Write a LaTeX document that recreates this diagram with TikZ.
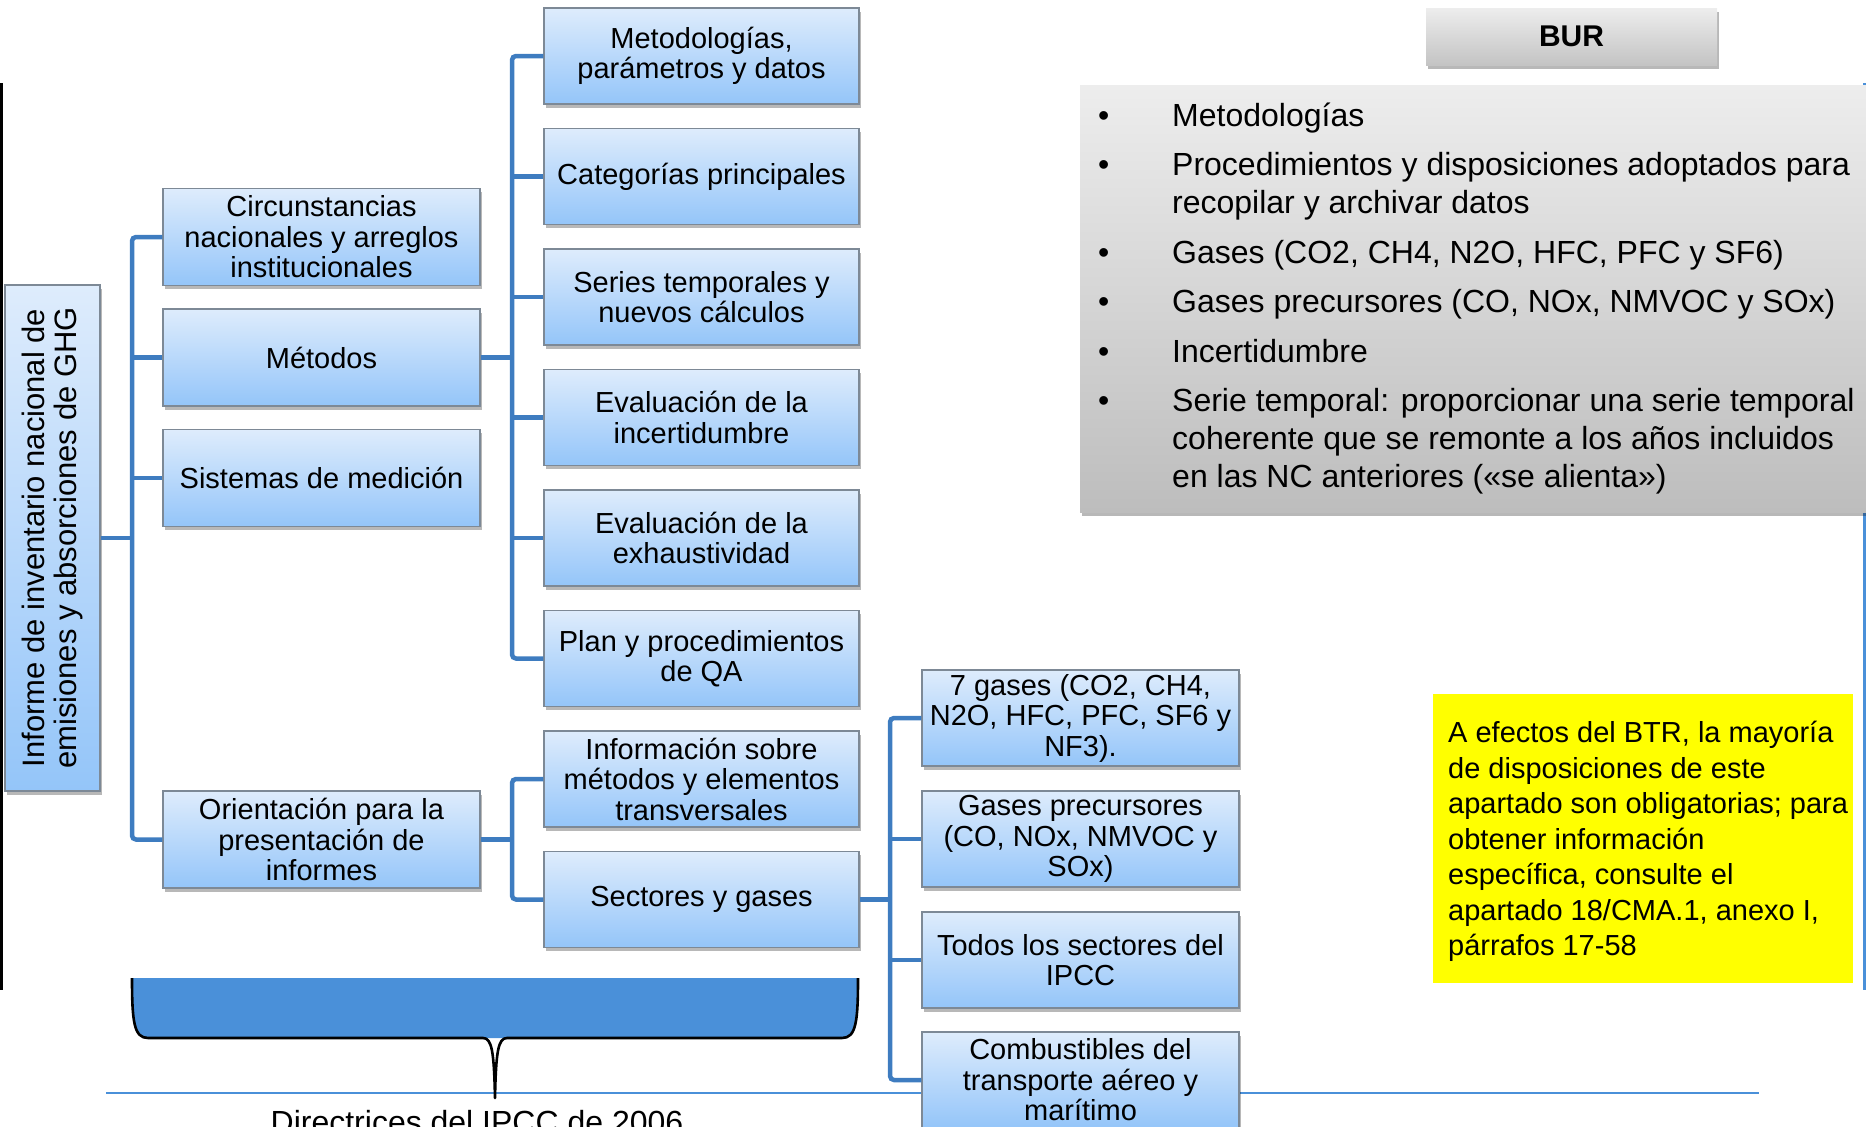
\documentclass[tikz,border=0pt]{standalone}
\usepackage{fontspec}
\setmainfont{Liberation Sans}
\usetikzlibrary{shadows}
\definecolor{btop}{RGB}{222,236,252}
\definecolor{bbot}{RGB}{148,197,249}
\definecolor{bdr}{RGB}{125,137,150}
\definecolor{connc}{RGB}{62,124,192}
\definecolor{brc}{RGB}{74,144,217}
\definecolor{gtop}{RGB}{237,237,237}
\definecolor{gbot}{RGB}{189,189,189}
\definecolor{ylw}{RGB}{255,255,0}
\begin{document}
\begin{tikzpicture}[x=1pt,y=-1pt,
  shd/.style={drop shadow={shadow xshift=1.5pt,shadow yshift=-3.5pt,opacity=0.28,fill=black}},
  bx/.style={shd,draw=bdr,line width=1.2pt,top color=btop,bottom color=bbot,
    minimum width=317pt,minimum height=97pt,inner sep=0pt,align=center,
    font=\fontsize{29}{30.5}\selectfont},
  bxm/.style={bx,minimum width=315pt,minimum height=96pt},
  link/.style={draw=connc,line width=4.5pt,rounded corners=4pt},
  greybox/.style={shd,top color=gtop,bottom color=gbot,draw=none,inner sep=0pt}
]
\useasboundingbox (0,0) rectangle (1866,1127);

% side rules
\coordinate (blT) at (1.5,83); \coordinate (blB) at (1.5,990);
\draw[line width=3pt,black] (blT) -- (blB);
\coordinate (brT) at (1864.5,83); \coordinate (brB) at (1864.5,990);
\draw[line width=3pt,brc] (brT) -- (brB);

% trunk coordinates
\coordinate (t1) at (132,0);
\coordinate (t2) at (512,0);
\coordinate (t3) at (890,0);

% nodes positions (boxes drawn later, defined here via coordinates)
\path
  (52.5,538) coordinate (rootc)
  (321.5,237) coordinate (circc)
  (321.5,357.5) coordinate (metc)
  (321.5,478) coordinate (sisc)
  (321.5,839.5) coordinate (oric);

% thin blue baseline
\coordinate (hlA) at (106,1093); \coordinate (hlB) at (1759,1093);
\draw[brc,line width=2.5pt] (hlA) -- (hlB);

% brace
\fill[brc] (132,978) .. controls (132,1022) and (134,1038) .. (148,1038) -- (842,1038)
  .. controls (856,1038) and (858,1022) .. (858,978) -- cycle;
\draw[black,line width=2.6pt,line join=round] (132,978) .. controls (132,1022) and (134,1038) .. (148,1038) -- (483,1038)
  .. controls (492,1038) and (494,1052) .. (495,1098) .. controls (496,1052) and (498,1038) .. (507,1038)
  -- (842,1038) .. controls (856,1038) and (858,1022) .. (858,978);

% root
\node[shd,draw=bdr,line width=1.2pt,top color=btop,bottom color=bbot,minimum width=95pt,minimum height=506pt,inner sep=0pt] (root) at (rootc) {};
\node[rotate=90,align=center,inner sep=0pt,font=\fontsize{31}{32.5}\selectfont] (roottxt) at (root.center) {Informe de inventario nacional de\\emisiones y absorciones de GHG};

% level 1
\node[bx] (circ) at (circc) {Circunstancias\\nacionales y arreglos\\institucionales};
\node[bx] (met) at (metc) {Métodos};
\node[bx] (sis) at (sisc) {Sistemas de medición};
\node[bx] (ori) at (oric) {Orientación para la\\presentación de\\informes};

% level 2
\node[bxm] (m1) at (701.5,56) {Metodologías,\\parámetros y datos};
\node[bxm] (m2) at (701.5,176.5) {Categorías principales};
\node[bxm] (m3) at (701.5,297) {Series temporales y\\nuevos cálculos};
\node[bxm] (m4) at (701.5,417.5) {Evaluación de la\\incertidumbre};
\node[bxm] (m5) at (701.5,538) {Evaluación de la\\exhaustividad};
\node[bxm] (m6) at (701.5,658.5) {Plan y procedimientos\\de QA};
\node[bxm] (inf) at (701.5,779) {Información sobre\\métodos y elementos\\transversales};
\node[bxm] (sec) at (701.5,899.5) {Sectores y gases};

% level 3
\node[bxm,minimum width=317pt] (g1) at (1080.5,718) {7 gases (CO2, CH4,\\N2O, HFC, PFC, SF6 y\\NF3).};
\node[bxm,minimum width=317pt] (g2) at (1080.5,839) {Gases precursores\\(CO, NOx, NMVOC y\\SOx)};
\node[bxm,minimum width=317pt] (g3) at (1080.5,960) {Todos los sectores del\\IPCC};
\node[bxm,minimum width=317pt] (g4) at (1080.5,1080) {Combustibles del\\transporte aéreo y\\marítimo};

% connectors (drawn behind boxes)
\begin{scope}[on background layer/.style={}]
\end{scope}

% level 0 -> 1
\draw[link] (circ.west) -- (circ.west -| t1) |- (ori.west);
\draw[link] (root.east) -- (root.east -| t1);
\draw[link] (met.west) -- (met.west -| t1);
\draw[link] (sis.west) -- (sis.west -| t1);
% Métodos -> level 2
\draw[link] (m1.west) -- (m1.west -| t2) |- (m6.west);
\draw[link] (met.east) -- (met.east -| t2);
\draw[link] (m2.west) -- (m2.west -| t2);
\draw[link] (m3.west) -- (m3.west -| t2);
\draw[link] (m4.west) -- (m4.west -| t2);
\draw[link] (m5.west) -- (m5.west -| t2);
% Orientación -> level 2
\draw[link] (inf.west) -- (inf.west -| t2) |- (sec.west);
\draw[link] (ori.east) -- (ori.east -| t2);
% Sectores -> level 3
\draw[link] (g1.west) -- (g1.west -| t3) |- (g4.west);
\draw[link] (sec.east) -- (sec.east -| t3);
\draw[link] (g2.west) -- (g2.west -| t3);
\draw[link] (g3.west) -- (g3.west -| t3);

% BUR side
\node[greybox,minimum width=291pt,minimum height=57pt,font=\fontsize{30}{32}\selectfont\bfseries,top color=gtop!100,bottom color=gbot!90] (bur) at (1571.5,36.5) {BUR};
\node[greybox,minimum width=805pt,minimum height=427pt] (burbox) at (1482.5,298.5) {};
\node[anchor=north west,inner sep=0pt,font=\fontsize{32}{38}\selectfont] (burlist) at (1098,99.4) {%
\begin{tabular}{@{}p{74pt}@{}l@{}}
•&Metodologías\\[11.5pt]
•&Procedimientos y disposiciones adoptados para\\
 &recopilar y archivar datos\\[11.5pt]
•&Gases (CO2, CH4, N2O, HFC, PFC y SF6)\\[11.5pt]
•&Gases precursores (CO, NOx, NMVOC y SOx)\\[11.5pt]
•&Incertidumbre\\[11.5pt]
•&Serie temporal: proporcionar una serie temporal\\
 &coherente que se remonte a los años incluidos\\
 &en las NC anteriores («se alienta»)
\end{tabular}};

% yellow note
\node[fill=ylw,minimum width=420pt,minimum height=289pt,inner sep=0pt] (note) at (1643,838.5) {};
\node[anchor=north west,inner sep=0pt,font=\fontsize{29}{35.5}\selectfont] (notetxt) at (1448,717.5) {%
\begin{tabular}{@{}l@{}}
A efectos del BTR, la mayoría\\
de disposiciones de este\\
apartado son obligatorias; para\\
obtener información\\
específica, consulte el\\
apartado 18/CMA.1, anexo I,\\
párrafos 17-58
\end{tabular}};

% bottom label
\node[anchor=base,inner sep=0pt,font=\fontsize{32}{34}\selectfont] (dir) at (477,1133) {Directrices del IPCC de 2006};
\end{tikzpicture}
\end{document}
